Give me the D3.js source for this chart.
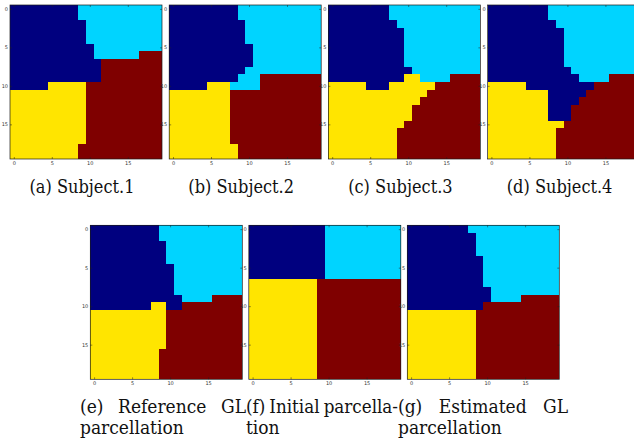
<!DOCTYPE html>
<html>
<head>
<meta charset="utf-8">
<script src="https://cdn.jsdelivr.net/npm/d3@7"></script>
<style>body{margin:0;background:#fff;}</style>
</head>
<body>
<script>
// parcel labels and jet colours for 4 classes
const labels = ["B", "C", "Y", "R"];
const colors = ["#00007f", "#00d4ff", "#ffe500", "#7f0000"];
const ticks = [0, 5, 10, 15];
const nCells = 20;

// each row: runs of "<label><count>", left to right
const subject1 = ["B9 C11", "B9 C11", "B10 C10", "B10 C10", "B10 C10", "B11 C9", "B11 C6 R3",
  "B12 R8", "B12 R8", "B12 R8", "B5 Y5 R10",
  "Y10 R10", "Y10 R10", "Y10 R10", "Y10 R10", "Y10 R10", "Y10 R10", "Y10 R10",
  "Y9 R11", "Y9 R11"];
const subject2 = ["B9 C11", "B9 C11", "B10 C10", "B10 C10", "B10 C10", "B11 C9", "B11 C9", "B11 C9",
  "B10 C10", "B9 C3 R8", "B5 Y3 C4 R8",
  "Y8 R12", "Y8 R12", "Y8 R12", "Y8 R12", "Y8 R12", "Y8 R12", "Y8 R12",
  "Y9 R11", "Y9 R11"];
const subject3 = ["B8 C12", "B8 C12", "B9 C11", "B10 C10", "B10 C10", "B10 C10", "B10 C10", "B10 C10",
  "B11 C9", "B10 Y2 C4 R4", "Y5 B3 Y6 R6", "Y13 R7", "Y12 R8", "Y11 R9", "Y11 R9", "Y10 R10",
  "Y9 R11", "Y9 R11", "Y9 R11", "Y9 R11"];
const subject4 = ["B8 C12", "B8 C12", "B9 C11", "B10 C10", "B10 C10", "B10 C10", "B10 C10", "B10 C10",
  "B11 C9", "B12 C4 R4", "Y5 B9 R6", "Y8 B5 R7", "Y8 B4 R8", "Y8 B3 R9", "Y8 B3 R9", "Y10 R10",
  "Y9 R11", "Y9 R11", "Y9 R11", "Y9 R11"];
const reference = ["B9 C11", "B9 C11", "B10 C10", "B10 C10", "B10 C10", "B11 C9", "B11 C9", "B11 C9",
  "B11 C9", "B12 C4 R4", "B8 Y2 B2 R8",
  "Y10 R10", "Y10 R10", "Y10 R10", "Y10 R10", "Y10 R10",
  "Y9 R11", "Y9 R11", "Y9 R11", "Y9 R11"];
const initial = ["B10 C10", "B10 C10", "B10 C10", "B10 C10", "B10 C10", "B10 C10", "B10 C10",
  "Y9 R11", "Y9 R11", "Y9 R11", "Y9 R11", "Y9 R11", "Y9 R11", "Y9 R11", "Y9 R11", "Y9 R11",
  "Y9 R11", "Y9 R11", "Y9 R11", "Y9 R11"];
const estimated = ["B8 C12", "B9 C11", "B9 C11", "B9 C11", "B10 C10", "B10 C10", "B10 C10", "B10 C10",
  "B11 C9", "B11 C4 R5", "B10 R10",
  "Y9 R11", "Y9 R11", "Y9 R11", "Y9 R11", "Y9 R11", "Y9 R11", "Y9 R11", "Y9 R11", "Y9 R11"];

const topPanels = [subject1, subject2, subject3, subject4];
const bottomPanels = [reference, initial, estimated];
const captionsTop = ["(a) Subject.1", "(b) Subject.2", "(c) Subject.3", "(d) Subject.4"];
const captionsBottom = [["(e) Reference GL", "parcellation"],
                        ["(f) Initial parcella-", "tion"],
                        ["(g) Estimated GL", "parcellation"]];

const width = 634, height = 440;
const plot = {w: 152, h: 154};
const top_row = {x: 10, y: 5, step: 159.2, cap: 193, capx: 82};
const bot_row = {x: 90.3, y: 225.3, step: 158.5};
const bot_caps = {boxes: [[80, 246], [246, 398], [398, 568]], y1: 413, y2: 434, size: 19};
const capFont = {family: "'DejaVu Serif Condensed', 'DejaVu Serif', serif", size: 18};

let svg = d3.select("body").append("svg")
        .attr("width", width)
        .attr("height", height);

let x = d3.scaleLinear().domain([-0.5, nCells - 0.5]).range([0, plot.w]);
let y = d3.scaleLinear().domain([-0.5, nCells - 0.5]).range([0, plot.h]);

let expand = function(rows){
  return rows.map(function(r){
    let out = [];
    r.split(" ").forEach(function(t){
      let k = labels.indexOf(t[0]), n = +t.slice(1);
      for (let i = 0; i < n; i++) out.push(k);
    });
    return out;
  });
}

let caption = function(txt, size){
  return svg.append("text")
    .style("font-family", capFont.family)
    .style("font-stretch", "condensed")
    .style("font-size", (size || capFont.size) + "px")
    .attr("fill", "#111")
    .text(txt);
}

let draw_panel = function(rows, left, top){
  let cells = [];
  expand(rows).forEach(function(row, r){
    row.forEach(function(v, c){ cells.push({r: r, c: c, v: v}); });
  });
  let g = svg.append("g").attr("transform", "translate(" + left + "," + top + ")");
  g.selectAll("rect.cell").data(cells).enter().append("rect")
    .attr("class", "cell")
    .attr("x", d => x(d.c - 0.5))
    .attr("y", d => y(d.r - 0.5))
    .attr("width", d => x(d.c + 0.5) - x(d.c - 0.5))
    .attr("height", d => y(d.r + 0.5) - y(d.r - 0.5))
    .attr("fill", d => colors[d.v])
    .attr("shape-rendering", "crispEdges");

  let styleAxis = function(sel){
    sel.select(".domain").remove();
    sel.selectAll("line").attr("stroke", "#222").attr("stroke-width", 0.5);
    sel.selectAll("text").attr("font-size", 5).attr("fill", "#333")
       .attr("font-family", "DejaVu Sans");
  }
  g.append("g").attr("transform", "translate(0," + plot.h + ")")
    .call(d3.axisBottom(x).tickValues(ticks).tickSize(-2).tickPadding(2)).call(styleAxis);
  g.append("g")
    .call(d3.axisLeft(y).tickValues(ticks).tickSize(-2).tickPadding(2)).call(styleAxis);
  g.append("g")
    .call(d3.axisTop(x).tickValues(ticks).tickSize(-2).tickFormat("")).call(styleAxis);
  g.append("g").attr("transform", "translate(" + plot.w + ",0)")
    .call(d3.axisRight(y).tickValues(ticks).tickSize(-2).tickFormat("")).call(styleAxis);

  g.append("rect")
    .attr("width", plot.w)
    .attr("height", plot.h)
    .attr("fill", "none")
    .attr("stroke", "#1a1a1a")
    .attr("stroke-width", 0.7);
}

topPanels.forEach(function(p, i){
  draw_panel(p, top_row.x + i * top_row.step, top_row.y);
  caption(captionsTop[i])
    .attr("x", top_row.capx + i * top_row.step)
    .attr("y", top_row.cap)
    .attr("text-anchor", "middle");
});

bottomPanels.forEach(function(p, i){
  draw_panel(p, bot_row.x + i * bot_row.step, bot_row.y);
  let box = bot_caps.boxes[i];
  // first line justified across the subfigure width
  let words = captionsBottom[i][0].split(" ");
  let nodes = words.map(w => caption(w, bot_caps.size).attr("y", bot_caps.y1));
  let total = d3.sum(nodes, n => n.node().getComputedTextLength());
  let minGap = 4 * (words.length - 1);
  if (total + minGap > box[1] - box[0]) {
    let k = (box[1] - box[0] - minGap) / total;
    nodes.forEach(n => n.style("font-size", (bot_caps.size * k) + "px"));
    total = d3.sum(nodes, n => n.node().getComputedTextLength());
  }
  let gap = (box[1] - box[0] - total) / (words.length - 1);
  let cx = box[0];
  nodes.forEach(function(n){
    n.attr("x", cx);
    cx += n.node().getComputedTextLength() + gap;
  });
  caption(captionsBottom[i][1], bot_caps.size)
    .attr("x", box[0])
    .attr("y", bot_caps.y2);
});
</script>
</body>
</html>
